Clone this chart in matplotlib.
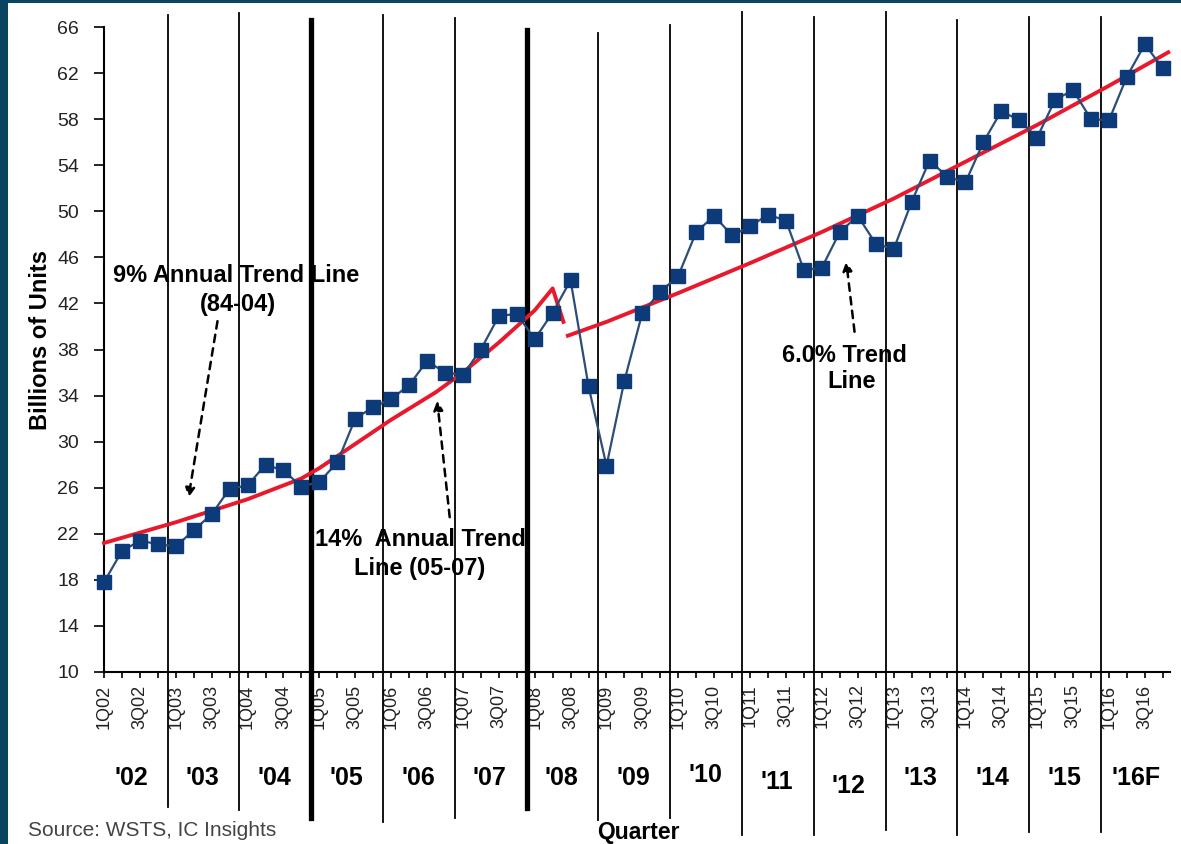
import matplotlib.pyplot as plt
import matplotlib.transforms as mtransforms

plt.rcParams['font.family'] = ['Liberation Sans', 'DejaVu Sans']

# quarterly unit shipments, 1Q02 .. 4Q16
years = ["'02", "'03", "'04", "'05", "'06", "'07", "'08", "'09",
         "'10", "'11", "'12", "'13", "'14", "'15", "'16F"]
quarters = [f"{q}Q{y:02d}" for y in range(2, 17) for q in range(1, 5)]
units = [17.8, 20.5, 21.4, 21.1, 20.9, 22.3, 23.7, 25.9,
         26.2, 28.0, 27.5, 26.1, 26.5, 28.2, 32.0, 33.0,
         33.7, 34.9, 37.0, 36.0, 35.8, 38.0, 40.9, 41.1,
         38.9, 41.2, 44.0, 34.8, 27.9, 35.3, 41.2, 43.0,
         44.4, 48.2, 49.6, 47.9, 48.7, 49.7, 49.2, 44.9,
         45.1, 48.2, 49.6, 47.2, 46.7, 50.8, 54.4, 53.0,
         52.5, 56.0, 58.7, 57.9, 56.4, 59.7, 60.5, 58.0,
         57.9, 61.7, 64.5, 62.4]

# trend lines (x = quarter index)
trend1_x = [0, 4, 8, 11, 12, 16, 18.5, 20, 22, 24, 25, 25.6]
trend1_y = [21.2, 23.0, 25.0, 26.8, 27.7, 31.9, 34.3, 36.0, 38.6, 41.4, 43.3, 40.4]
trend2_x = [25.85, 28, 32, 36, 40, 44, 48, 52, 56, 59.3]
trend2_y = [39.2, 40.4, 42.9, 45.5, 48.2, 51.1, 54.3, 57.5, 60.9, 63.8]

# hand drawn year separators: top / bottom ends in axes fraction
sep_top = [1.019, 1.022, 1.011, 1.019, 1.014, 0.995, 0.991, 1.003, 1.023, 1.015, 1.023, 1.011, 1.015, 1.015]
sep_bottom = [-0.210, -0.214, -0.226, -0.232, -0.226, -0.211, -0.229, -0.226, -0.253, -0.253,
              -0.245, -0.253, -0.248, -0.248]
# small vertical offsets of the year labels (axes fraction)
year_y = [-0.165] * 8 + [-0.160, -0.170, -0.177] + [-0.165] * 4

fig = plt.figure(figsize=(11.81, 8.44), dpi=100, facecolor='#0a4560')
# white panel inside the dark frame
fig.patches.append(plt.Rectangle((8 / 1181, 0), 1, 1 - 3 / 844, transform=fig.transFigure,
                                 facecolor='white', edgecolor='none', zorder=-10))
ax = fig.add_axes([104 / 1181, 1 - 672 / 844, 1066 / 1181, 645 / 844])
ax.set_facecolor('none')

x = list(range(len(units)))
ax.plot(trend1_x, trend1_y, color='#e8192c', lw=2.8, zorder=3, clip_on=False)
ax.plot(trend2_x, trend2_y, color='#e8192c', lw=2.8, zorder=3, clip_on=False)
ax.plot(x, units, color='#2c4d78', lw=1.6, marker='s', markersize=10,
        markerfacecolor='#0d3a78', markeredgecolor='#0d3a78', zorder=4, clip_on=False)

ax.set_xlim(0, 59.4)
ax.set_ylim(10, 66)
ax.set_yticks(range(10, 67, 4))
ax.set_xticks(x)
ax.set_xticklabels([q if q[0] in '13' else '' for q in quarters], rotation=90,
                   fontsize=13, color='#222222')
ax.tick_params(axis='x', length=4, width=1.2, pad=5)
ax.tick_params(axis='y', length=7, width=1.2, labelsize=14, pad=11, labelcolor='#222222')
for s in ['top', 'right']:
    ax.spines[s].set_visible(False)
for s in ['left', 'bottom']:
    ax.spines[s].set_linewidth(1.5)

trans = mtransforms.blended_transform_factory(ax.transData, ax.transAxes)
for i in range(1, len(years)):
    xpos = 4 * i - 0.45
    thick = years[i] in ("'05", "'08")
    ax.plot([xpos, xpos], [sep_top[i - 1], sep_bottom[i - 1]], transform=trans, color='black',
            lw=3.8 if thick else 1.3, clip_on=False, zorder=2)

for i, yr in enumerate(years):
    ax.text(4 * i + 1.5, year_y[i], yr, transform=trans, ha='center', va='center',
            fontsize=18, fontweight='bold', zorder=1)

ax.set_ylabel('Billions of Units', fontsize=17, fontweight='bold')
ax.yaxis.set_label_coords(-0.049, 0.515)
fig.text(638 / 1181, 1 - 832 / 844, 'Quarter', ha='center', va='center',
         fontsize=16.5, fontweight='bold')
fig.text(28 / 1181, 1 - 830 / 844, 'Source: WSTS, IC Insights', ha='left', va='center',
         fontsize=15, color='#444444')

# annotations (text sits under the separators, as in the original)
arrow = dict(arrowstyle='-|>', linestyle=(0, (3, 2.5)), color='black', lw=1.8,
             mutation_scale=14)
note = dict(ha='center', va='center', fontsize=17, fontweight='bold', zorder=1)
ax.text(7.35, 44.4, '9% Annual Trend Line', **note)
ax.text(7.47, 41.9, '(84-04)', **note)
ax.annotate('', xy=(4.68, 24.9), xytext=(6.35, 40.7), arrowprops=arrow)
ax.text(17.66, 21.5, '14%  Annual Trend', **note)
ax.text(17.6, 19.0, 'Line (05-07)', **note)
ax.annotate('', xy=(18.55, 33.8), xytext=(19.28, 23.2), arrowprops=arrow)
ax.text(41.28, 37.5, '6.0% Trend', **note)
ax.text(41.67, 35.2, 'Line', **note)
ax.annotate('', xy=(41.34, 45.9), xytext=(41.84, 39.3), arrowprops=arrow)

fig.savefig('out.png', dpi=100, facecolor=fig.get_facecolor())
